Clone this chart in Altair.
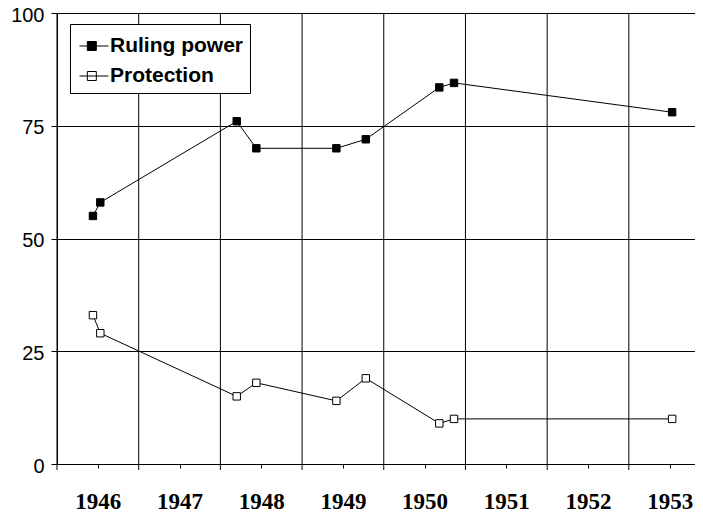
import altair as alt
import pandas as pd

# ---- data ----
dates = [1946.44, 1946.53, 1948.20, 1948.44, 1949.42, 1949.78, 1950.68, 1950.86, 1953.53]
ruling_power = [55, 58, 76, 70, 70, 72, 83.5, 84.5, 78]
protection = [33, 29, 15, 18, 14, 19, 9, 10, 10]
series_names = ["Ruling power", "Protection"]
year_labels = [1946, 1947, 1948, 1949, 1950, 1951, 1952, 1953]
grid_years = [1946, 1947, 1948, 1949, 1950, 1951, 1952, 1953]
y_ticks = [0, 25, 50, 75, 100]

rows = []
for t, v in zip(dates, ruling_power):
    rows.append({"t": t, "value": v, "series": series_names[0]})
for t, v in zip(dates, protection):
    rows.append({"t": t, "value": v, "series": series_names[1]})
df = pd.DataFrame(rows)
grid_df = pd.DataFrame({"t": grid_years})

x_scale = alt.Scale(domain=[1946, 1953.81], nice=False, zero=False)
x_axis = alt.Axis(
    values=[y + 0.5 for y in year_labels],
    labelExpr="floor(datum.value)",
    title=None, grid=False,
    domain=True, domainColor="black", domainWidth=1,
    ticks=True, tickSize=4, tickColor="black", tickWidth=1,
    labelFont="Liberation Serif", labelFontWeight="bold", labelFontSize=23,
    labelColor="black", labelPadding=22, labelFlush=False, labelOverlap=False,
)
y_scale = alt.Scale(domain=[0, 100], nice=False)
y_axis = alt.Axis(
    values=y_ticks, title=None,
    grid=True, gridColor="black", gridWidth=1, gridOpacity=1,
    domain=True, domainColor="black", domainWidth=1,
    ticks=True, tickSize=6, tickColor="black", tickWidth=1,
    labelFont="Liberation Sans", labelFontSize=20, labelColor="black",
    labelPadding=7, labelOffset=2,
)

X = alt.X("t:Q", scale=x_scale, axis=x_axis)
Y = alt.Y("value:Q", scale=y_scale, axis=y_axis)

grid = alt.Chart(grid_df).mark_rule(color="black", strokeWidth=1).encode(
    x=X, y=alt.value(0), y2=alt.value(457)
)

lines = alt.Chart(df).mark_line(color="black", strokeWidth=1).encode(
    x=X, y=Y, detail="series:N", order="t:Q"
)

legend_path = "M-1,0H1M-0.46,-0.31H0.16V0.31H-0.46Z"
points = alt.Chart(df).mark_point(
    shape="square", filled=True, size=55, stroke="black", strokeWidth=1, opacity=1
).encode(
    x=X, y=Y,
    fill=alt.Fill(
        "series:N",
        scale=alt.Scale(domain=series_names, range=["black", "white"]),
        legend=alt.Legend(
            title=None, orient="none", legendX=13, legendY=11,
            fillColor="white", strokeColor="black", padding=7,
            symbolType=legend_path, symbolSize=841, symbolOffset=2,
            symbolStrokeColor="black", symbolStrokeWidth=1,
            labelFont="Liberation Sans", labelFontWeight="bold",
            labelFontSize=21, labelColor="black", labelOffset=1,
            rowPadding=5,
        ),
    ),
)

chart = alt.layer(grid, lines, points).properties(
    width=638, height=451,
    autosize=alt.AutoSizeParams(type="none"),
    padding={"left": 49, "top": 5, "right": 0, "bottom": 52},
    background="white",
).configure_view(stroke="transparent", strokeWidth=0)

chart.save("out.html", embed_options={"renderer": "svg", "actions": False})
